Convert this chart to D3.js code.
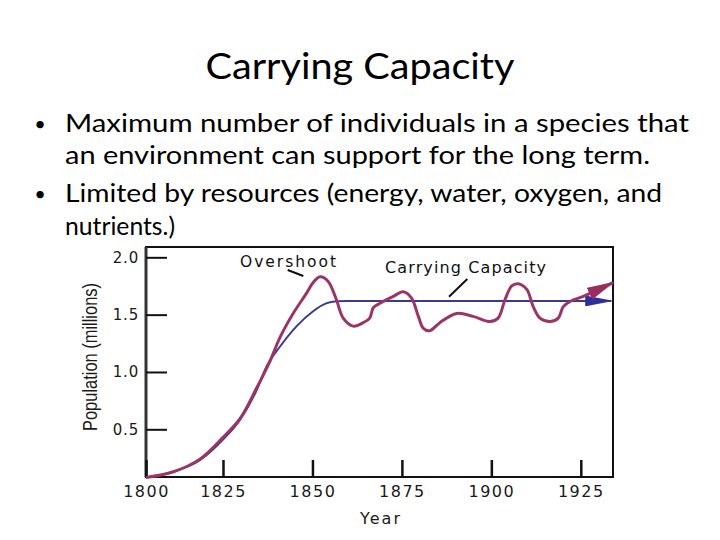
<!DOCTYPE html>
<html><head><meta charset="utf-8">
<script src="https://cdn.jsdelivr.net/npm/d3@7"></script>
<style>body{margin:0;background:#fff}svg{display:block}</style>
</head><body>
<svg id="chart" width="720" height="540"></svg>
<script>
// ---------- data ----------
const titleText = "Carrying Capacity";
const bulletLines = [
  {bullet: true,  text: "Maximum number of individuals in a species that"},
  {bullet: false, text: "an environment can support for the long term."},
  {bullet: true,  text: "Limited by resources (energy, water, oxygen, and"},
  {bullet: false, text: "nutrients.)"}
];
const xTickValues = [1800, 1825, 1850, 1875, 1900, 1925];
const yTickValues = [0.5, 1.0, 1.5, 2.0];
const xAxisTitle = "Year";
const yAxisTitle = "Population (millions)";
const overshootLabel = "Overshoot";
const capacityLabel = "Carrying Capacity";

const capacityYears  = [1800, 1808.9, 1817.5, 1825, 1829.7, 1834.4, 1837.2, 1840.9, 1845.6, 1850.2, 1854, 1856.7, 1860, 1933.5];
const capacityValues = [0.08, 0.13, 0.23, 0.41, 0.58, 0.84, 1.05, 1.22, 1.40, 1.53, 1.60, 1.616, 1.62, 1.62];

const populationYears  = [1800, 1808.9, 1817.5, 1825, 1829.7, 1834.4, 1838.2, 1840.9, 1844.6, 1848.4, 1850.2, 1852.1, 1854.4, 1856.7, 1858.6, 1861.4, 1864.2, 1866, 1867, 1868.9, 1872.6, 1875.4, 1877.7, 1879.6, 1881, 1882.8, 1885.6, 1890.3, 1894.9, 1899.6, 1901.9, 1903.8, 1905.7, 1907.5, 1909.9, 1911.7, 1913.6, 1916.4, 1918.7, 1920.1, 1922, 1925.7, 1934];
const populationValues = [0.08, 0.13, 0.24, 0.43, 0.59, 0.86, 1.10, 1.30, 1.51, 1.69, 1.78, 1.83, 1.79, 1.63, 1.47, 1.40, 1.43, 1.47, 1.56, 1.60, 1.66, 1.70, 1.645, 1.485, 1.38, 1.36, 1.43, 1.51, 1.485, 1.44, 1.47, 1.63, 1.75, 1.77, 1.72, 1.57, 1.47, 1.44, 1.47, 1.57, 1.615, 1.66, 1.78];

// ---------- layout ----------
const svg = d3.select("#chart");
const frame = {left: 146, right: 613, top: 247, bottom: 477};

const x = d3.scaleLinear().domain([1800, 1825, 1934]).range([frame.left, 223, frame.right]);
const y = d3.scaleLinear().domain([0.084, 2.09]).range([frame.bottom, frame.top]);

const bodyFont = "Lato, 'Open Sans', sans-serif";
const chartFont = "'DejaVu Sans', Verdana, sans-serif";

// title
svg.append("text")
  .attr("x", 205.5).attr("y", 79)
  .attr("font-family", bodyFont).attr("font-size", 37)
  .attr("textLength", 309).attr("lengthAdjust", "spacingAndGlyphs")
  .attr("fill", "#000").text(titleText);

// bullets
const lineBaselines = [132, 164, 202, 235];
const lineLengths = [624, 585, 597, 110];
bulletLines.forEach((ln, i) => {
  if (ln.bullet) {
    svg.append("text").attr("x", 40).attr("y", lineBaselines[i] - 1)
      .attr("text-anchor", "middle")
      .attr("font-family", bodyFont).attr("font-size", 20).text("\u2022");
  }
  svg.append("text").attr("x", 65).attr("y", lineBaselines[i])
    .attr("font-family", bodyFont).attr("font-size", 25.5)
    .attr("textLength", lineLengths[i]).attr("lengthAdjust", "spacingAndGlyphs")
    .attr("fill", "#000").text(ln.text);
});

// frame
svg.append("rect")
  .attr("x", frame.left).attr("y", frame.top)
  .attr("width", frame.right - frame.left).attr("height", frame.bottom - frame.top)
  .attr("fill", "none").attr("stroke", "#111").attr("stroke-width", 2);
svg.append("line")
  .attr("x1", frame.left).attr("x2", frame.left)
  .attr("y1", frame.top).attr("y2", frame.bottom)
  .attr("stroke", "#333").attr("stroke-width", 3);

// y axis
const yAxis = svg.append("g").attr("transform", `translate(${frame.left},0)`)
  .call(d3.axisLeft(y).tickValues(yTickValues).tickSize(-21).tickPadding(7).tickFormat(d3.format(".1f")));
yAxis.select(".domain").remove();
yAxis.selectAll(".tick line").attr("stroke", "#111").attr("stroke-width", 2);
yAxis.selectAll(".tick text").attr("font-family", chartFont).attr("font-size", 15)
  .attr("letter-spacing", "0.8px").attr("fill", "#1a1a1a");

// x axis
const xAxis = svg.append("g").attr("transform", `translate(0,${frame.bottom})`)
  .call(d3.axisBottom(x).tickValues(xTickValues).tickSize(-17).tickPadding(9).tickFormat(d => String(d)));
xAxis.select(".domain").remove();
xAxis.selectAll(".tick line").attr("stroke", "#111").attr("stroke-width", 2.5);
xAxis.selectAll(".tick text").attr("font-family", chartFont).attr("font-size", 16)
  .attr("letter-spacing", "1.5px").attr("fill", "#1a1a1a");

// axis titles
svg.append("text")
  .attr("transform", `translate(97,357) rotate(-90)`)
  .attr("text-anchor", "middle")
  .attr("font-family", "'Liberation Sans Narrow', 'Liberation Sans', sans-serif").attr("font-size", 20)
  .attr("textLength", 148).attr("lengthAdjust", "spacingAndGlyphs")
  .attr("fill", "#1a1a1a").text(yAxisTitle);
svg.append("text")
  .attr("x", 360).attr("y", 524)
  .attr("font-family", chartFont).attr("font-size", 16)
  .attr("textLength", 40).attr("lengthAdjust", "spacing")
  .attr("fill", "#1a1a1a").text(xAxisTitle);

// markers
const defs = svg.append("defs");
function marker(id, color, len, w) {
  defs.append("marker").attr("id", id)
    .attr("viewBox", `0 0 ${len} ${w}`)
    .attr("markerUnits", "userSpaceOnUse")
    .attr("markerWidth", len).attr("markerHeight", w)
    .attr("refX", len - 2).attr("refY", w / 2)
    .attr("orient", "auto")
    .append("path").attr("d", `M0,0 L${len},${w/2} L0,${w} Z`).attr("fill", color);
}
marker("arrowBlue", "#2f2f9c", 28, 11);
marker("arrowMag", "#9a2d60", 28, 13);

// capacity curve
const capData = capacityYears.map((yr, i) => [yr, capacityValues[i]]);
svg.append("path")
  .datum(capData)
  .attr("d", d3.line().x(d => x(d[0])).y(d => y(d[1])).curve(d3.curveMonotoneX))
  .attr("fill", "none").attr("stroke", "#3a3a94").attr("stroke-width", 2)
  .attr("marker-end", "url(#arrowBlue)");

// population curve
const popData = populationYears.map((yr, i) => [yr, populationValues[i]]);
svg.append("path")
  .datum(popData)
  .attr("d", d3.line().x(d => x(d[0])).y(d => y(d[1])).curve(d3.curveCatmullRom.alpha(0.5)))
  .attr("fill", "none").attr("stroke", "#9b3566").attr("stroke-width", 3)
  .attr("stroke-linejoin", "round")
  .attr("marker-end", "url(#arrowMag)");

// annotations
svg.append("text").attr("x", 240).attr("y", 267)
  .attr("font-family", chartFont).attr("font-size", 15.5)
  .attr("textLength", 96).attr("lengthAdjust", "spacing")
  .attr("fill", "#111").text(overshootLabel);
svg.append("line").attr("x1", 287.7).attr("y1", 270).attr("x2", 303.3).attr("y2", 276)
  .attr("stroke", "#111").attr("stroke-width", 2);

svg.append("text").attr("x", 385).attr("y", 273)
  .attr("font-family", chartFont).attr("font-size", 16)
  .attr("textLength", 161).attr("lengthAdjust", "spacing")
  .attr("fill", "#111").text(capacityLabel);
svg.append("line").attr("x1", 467.3).attr("y1", 279).attr("x2", 449).attr("y2", 296.7)
  .attr("stroke", "#111").attr("stroke-width", 2);
</script>
</body></html>
